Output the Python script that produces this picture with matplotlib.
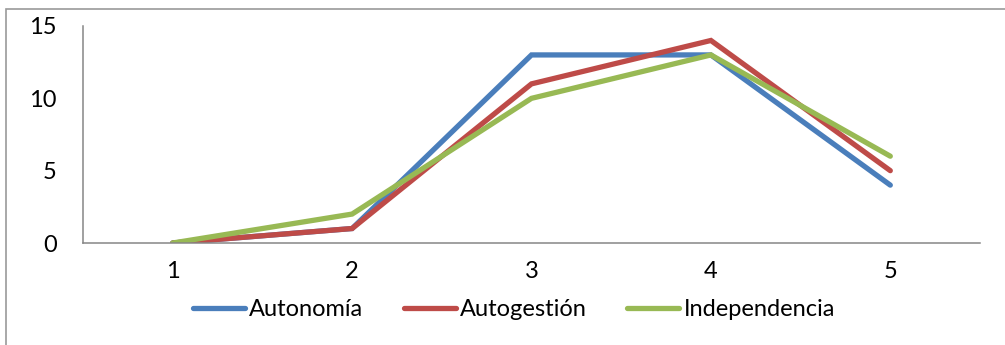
import matplotlib
matplotlib.use('Agg')
import matplotlib.pyplot as plt
from matplotlib.patches import Rectangle

# data
categories = [1, 2, 3, 4, 5]
autonomia = [0, 1, 13, 13, 4]
autogestion = [0, 1, 11, 14, 5]
independencia = [0, 2, 10, 13, 6]

plt.rcParams['font.family'] = ['Lato', 'DejaVu Sans']

fig = plt.figure(figsize=(10.05, 3.45), dpi=100)
# chart area border (cropped at right/bottom like the original)
fig.patches.append(Rectangle((6 / 1005, -0.1), 1.2, (345 - 9) / 345 + 0.1,
                             transform=fig.transFigure, fill=False,
                             edgecolor='#9a9a9a', linewidth=1.2))

ax = fig.add_axes([83 / 1005, (345 - 243) / 345, 897 / 1005, 217 / 345])

lw = 3.8
ax.plot(categories, autonomia, color='#4A7EBB', lw=lw, label='Autonomía',
        solid_capstyle='round', solid_joinstyle='miter')
ax.plot(categories, autogestion, color='#BE4B48', lw=lw, label='Autogestión',
        solid_capstyle='round', solid_joinstyle='miter')
ax.plot(categories, independencia, color='#98B954', lw=lw, label='Independencia',
        solid_capstyle='round', solid_joinstyle='miter')

ax.set_xlim(0.5, 5.5)
ax.set_ylim(0, 15)
ax.set_yticks([0, 5, 10, 15])
ax.set_xticks(categories)
ax.tick_params(length=0, labelsize=17)
ax.tick_params(axis='y', pad=19)
ax.tick_params(axis='x', pad=13)

for s in ['top', 'right']:
    ax.spines[s].set_visible(False)
for s in ['left', 'bottom']:
    ax.spines[s].set_color('#868686')
    ax.spines[s].set_linewidth(1.1)

fig.legend(loc='center', bbox_to_anchor=(514 / 1005, 1 - 310 / 345), ncol=3,
           frameon=False, fontsize=17, handlelength=2.2, handletextpad=0.2,
           columnspacing=1.7, borderaxespad=0)

fig.savefig('out.png', dpi=100)
